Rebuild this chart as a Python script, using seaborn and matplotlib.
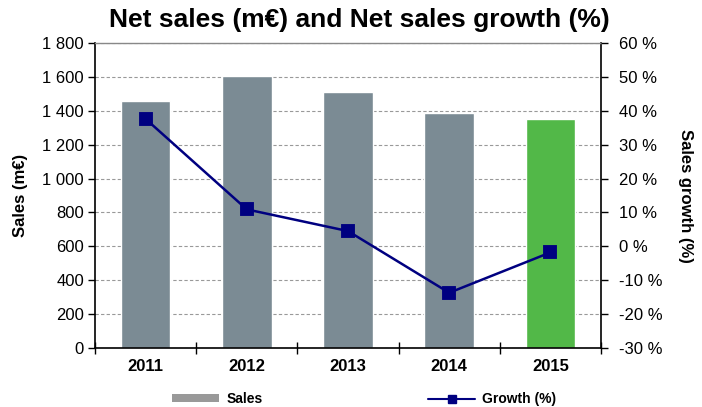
import matplotlib
matplotlib.use("Agg")
import matplotlib.pyplot as plt
import matplotlib.ticker as mticker
from matplotlib.patches import Patch
from matplotlib.lines import Line2D
import seaborn as sns
import pandas as pd

years = ["2011", "2012", "2013", "2014", "2015"]
sales = [1455, 1607, 1513, 1389, 1352]
growth = [37.6, 10.9, 4.5, -13.7, -1.8]
bar_colors = ["#7B8B94", "#7B8B94", "#7B8B94", "#7B8B94", "#52B848"]

sns.set_theme(style="white")
plt.rcParams['font.family'] = ['Liberation Sans', 'DejaVu Sans']
plt.rcParams.update({"text.color": "black", "axes.labelcolor": "black",
                     "xtick.color": "black", "ytick.color": "black"})

df = pd.DataFrame({"year": years, "sales": sales, "growth": growth})

fig = plt.figure(figsize=(7.02, 4.07), dpi=100)
ax = fig.add_axes([95/702, 1 - 348/407, 506/702, 305/407])

sns.barplot(data=df, x="year", y="sales", hue="year", palette=bar_colors,
            width=0.49, legend=False, ax=ax, saturation=1, zorder=2)
ax.set_ylim(0, 1800)
ax.set_xlim(-0.5, 4.5)
ax.yaxis.set_major_locator(mticker.MultipleLocator(200))
ax.yaxis.set_major_formatter(mticker.FuncFormatter(
    lambda v, p: f"{int(v):,}".replace(",", " ")))
ax.grid(axis="y", linestyle=(0, (3, 2)), color="#999999", linewidth=0.8, zorder=0)
ax.set_axisbelow(True)
ax.set_xlabel("")
ax.set_ylabel("Sales (m€)", fontsize=12, fontweight="bold", labelpad=10)
ax.tick_params(axis="y", labelsize=12, length=5, width=1, direction="out", left=True,
               colors="black", pad=3)
ax.tick_params(axis="x", labelsize=12, length=0, pad=8, labelcolor="black")
for lbl in ax.get_xticklabels():
    lbl.set_fontweight("bold")
ax.set_xticks([-0.5, 0.5, 1.5, 2.5, 3.5, 4.5], minor=True)
ax.tick_params(axis="x", which="minor", length=8, width=1, direction="inout", bottom=True, color="black")
for s in ["left", "bottom", "right"]:
    ax.spines[s].set_color("black")
    ax.spines[s].set_linewidth(1.2)
ax.spines["top"].set_color("#888888")
ax.spines["top"].set_linewidth(1)

ax2 = ax.twinx()
sns.pointplot(data=df, x="year", y="growth", color="#000080", markers="s",
              markersize=9, linewidth=1.8, ax=ax2, zorder=5)
ax2.set_ylim(-30, 60)
ax2.set_xlim(-0.5, 4.5)
ax2.yaxis.set_major_locator(mticker.MultipleLocator(10))
ax2.yaxis.set_major_formatter(mticker.FuncFormatter(lambda v, p: f"{int(round(v))} %"))
ax2.set_ylabel("Sales growth (%)", fontsize=12, fontweight="bold", rotation=270, labelpad=22)
ax2.tick_params(axis="y", labelsize=12, length=5, width=1, direction="out", right=True,
                colors="black", pad=8)
ax2.set_xlabel("")
for s in ax2.spines.values():
    s.set_visible(False)

fig.suptitle("Net sales (m€) and Net sales growth (%)", fontsize=19, fontweight="bold",
             x=0.512, y=0.98, color="black")

leg_kw = dict(frameon=False, handlelength=3.4, handleheight=0.45, handletextpad=0.5,
              borderaxespad=0, borderpad=0, prop={"weight": "bold", "size": 10})
leg1 = fig.legend([Patch(facecolor="#999999", edgecolor="none")], ["Sales"],
                  loc="center left", bbox_to_anchor=(172/702, 1 - 399/407), **leg_kw)
leg2 = fig.legend([Line2D([0], [0], color="#000080", marker="s", markersize=6, linewidth=1.5)],
                  ["Growth (%)"], loc="center left", bbox_to_anchor=(428/702, 1 - 399/407), **leg_kw)

fig.savefig("out.png", dpi=100)
